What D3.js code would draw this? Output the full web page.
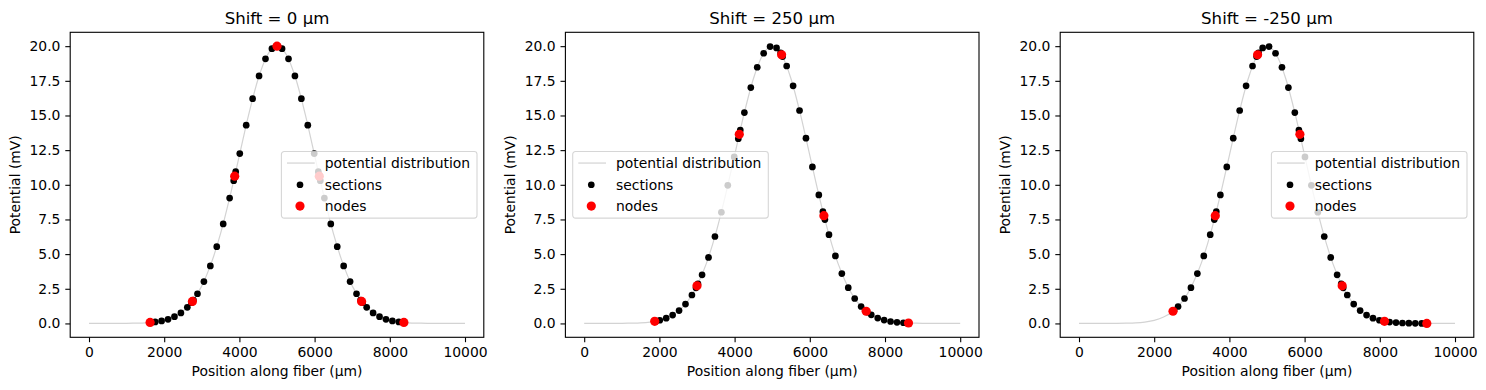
<!DOCTYPE html>
<html><head><meta charset="utf-8">
<script src="https://cdn.jsdelivr.net/npm/d3@7"></script>
<style>
body{margin:0;background:#fff}
svg{display:block}
text{font-family:"DejaVu Sans",sans-serif;fill:#000}
</style>
</head><body>
<svg id="c" width="1486" height="390"></svg>
<script>
// ---------- data ----------
const titles = ["Shift = 0 µm", "Shift = 250 µm", "Shift = -250 µm"];
const xTicks = [0, 2000, 4000, 6000, 8000, 10000];
const yTicks = [0, 2.5, 5, 7.5, 10, 12.5, 15, 17.5, 20];
const legendLabels = ["potential distribution", "sections", "nodes"];
const legendSide = ["right", "left", "right"];

// potential distribution (same curve in every panel)
const curveX = [0,250,500,750,1000,1250,1500,1750,2000,2250,2500,2750,3000,3250,3500,3750,4000,4250,4500,4750,5000,
  5250,5500,5750,6000,6250,6500,6750,7000,7250,7500,7750,8000,8250,8500,8750,9000,9250,9500,9750,10000];
const curveY = [0,0,0,0,0.01,0.02,0.04,0.10,0.22,0.46,0.88,1.59,2.71,4.33,6.49,9.16,12.13,15.10,17.65,19.38,20.00,
  19.38,17.65,15.10,12.13,9.16,6.49,4.33,2.71,1.59,0.88,0.46,0.22,0.10,0.04,0.02,0.01,0,0,0,0];

// Shift = 0
const sections0X = [1651.5,1760,1931,2102,2273,2444,2615,2723.5, 2776.5,2885,3056,3227,3398,3569,3740,3848.5,
  3901.5,4010,4181,4352,4523,4694,4865,4973.5, 5026.5,5135,5306,5477,5648,5819,5990,6098.5,
  6151.5,6260,6431,6602,6773,6944,7115,7223.5, 7276.5,7385,7556,7727,7898,8069,8240,8348.5];
const sections0Y = [0.07,0.11,0.18,0.30,0.49,0.76,1.16,1.50, 1.69,2.14,3.02,4.15,5.54,7.18,9.04,10.30,
  10.95,12.25,14.30,16.21,17.85,19.09,19.82,19.99, 19.99,19.82,19.09,17.85,16.21,14.30,12.25,10.95,
  10.30,9.04,7.18,5.54,4.15,3.02,2.14,1.69, 1.50,1.16,0.76,0.49,0.30,0.18,0.11,0.07];
const nodes0X = [1625,2750,3875,5000,6125,7250,8375];
const nodes0Y = [0.07,1.59,10.62,20.00,10.62,1.59,0.07];

// Shift = 250
const sections1X = [1901.5,2010,2181,2352,2523,2694,2865,2973.5, 3026.5,3135,3306,3477,3648,3819,3990,4098.5,
  4151.5,4260,4431,4602,4773,4944,5115,5223.5, 5276.5,5385,5556,5727,5898,6069,6240,6348.5,
  6401.5,6510,6681,6852,7023,7194,7365,7473.5, 7526.5,7635,7806,7977,8148,8319,8490,8598.5];
const sections1Y = [0.16,0.23,0.38,0.60,0.93,1.40,2.05,2.57, 2.85,3.51,4.76,6.27,8.02,9.96,12.01,13.32,
  13.95,15.21,17.01,18.48,19.49,19.97,19.87,19.51, 19.25,18.57,17.14,15.36,13.36,11.29,9.27,8.06,
  7.49,6.40,4.87,3.60,2.58,1.80,1.22,0.94, 0.82,0.62,0.39,0.24,0.14,0.08,0.05,0.03];
const nodes1X = [1875,3000,4125,5250,6375,7500,8625];
const nodes1Y = [0.15,2.71,13.64,19.38,7.77,0.88,0.03];

// Shift = -250
const sections2X = [2526.5,2635,2806,2977,3148,3319,3490,3598.5, 3651.5,3760,3931,4102,4273,4444,4615,4723.5,
  4776.5,4885,5056,5227,5398,5569,5740,5848.5, 5901.5,6010,6181,6352,6523,6694,6865,6973.5,
  7026.5,7135,7306,7477,7648,7819,7990,8098.5, 8151.5,8260,8431,8602,8773,8944,9115,9223.5];
const sections2Y = [0.94,1.22,1.80,2.58,3.60,4.87,6.40,7.49, 8.06,9.27,11.29,13.36,15.36,17.14,18.57,19.25,
  19.51,19.87,19.97,19.49,18.48,17.01,15.21,13.95, 13.32,12.01,9.96,8.02,6.27,4.76,3.51,2.85,
  2.57,2.05,1.40,0.93,0.60,0.38,0.23,0.16, 0.14,0.10,0.06,0.03,0.02,0.01,0.00,0.00];
const nodes2X = [2500,3625,4750,5875,7000,8125,9250];
const nodes2Y = [0.88,7.77,19.38,13.64,2.71,0.15,0.00];

const sectionsX = [sections0X, sections1X, sections2X];
const sectionsY = [sections0Y, sections1Y, sections2Y];
const nodesX = [nodes0X, nodes1X, nodes2X];
const nodesY = [nodes0Y, nodes1Y, nodes2Y];

// ---------- layout ----------
const axLefts = [70.2, 565.4, 1060.2];
const axW = 413.6, axTop = 32.3, axBottom = 337.3;
const FS = 13.9, TFS = 16.6, TICK = 4.9;
const RS = 3.35, RN = 4.6;

const svg = d3.select("#c");

for (let p = 0; p < 3; p++) {
  const L = axLefts[p], R = L + axW;
  const x = d3.scaleLinear().domain([-500, 10500]).range([L, R]);
  const y = d3.scaleLinear().domain([-1, 21]).range([axBottom, axTop]);
  const g = svg.append("g");

  // curve
  const cdata = curveX.map((v, i) => [v, curveY[i]]);
  g.append("path").datum(cdata)
    .attr("fill", "none").attr("stroke", "#d3d3d3").attr("stroke-width", 1.2)
    .attr("d", d3.line().x(d => x(d[0])).y(d => y(d[1])).curve(d3.curveMonotoneX));

  // sections
  g.selectAll("circle.sec").data(sectionsX[p].map((v, i) => [v, sectionsY[p][i]]))
    .enter().append("circle").attr("class", "sec")
    .attr("cx", d => x(d[0])).attr("cy", d => y(d[1])).attr("r", RS).attr("fill", "#000");

  // nodes
  g.selectAll("circle.node").data(nodesX[p].map((v, i) => [v, nodesY[p][i]]))
    .enter().append("circle").attr("class", "node")
    .attr("cx", d => x(d[0])).attr("cy", d => y(d[1])).attr("r", RN).attr("fill", "#ff0000");

  // axes
  const xa = g.append("g").attr("transform", `translate(0,${axBottom})`)
    .call(d3.axisBottom(x).tickValues(xTicks).tickFormat(d3.format("d")).tickSize(TICK).tickPadding(4.9));
  const ya = g.append("g").attr("transform", `translate(${L},0)`)
    .call(d3.axisLeft(y).tickValues(yTicks).tickFormat(d3.format(".1f")).tickSize(TICK).tickPadding(4.9));
  [xa, ya].forEach(a => {
    a.select(".domain").remove();
    a.selectAll(".tick line").attr("stroke", "#000").attr("stroke-width", 1.1);
    a.selectAll(".tick text").attr("font-size", FS).attr("font-family", "DejaVu Sans").attr("fill", "#000");
  });

  // frame
  g.append("rect").attr("x", L).attr("y", axTop).attr("width", axW).attr("height", axBottom - axTop)
    .attr("fill", "none").attr("stroke", "#000").attr("stroke-width", 1.1);

  // title & labels
  g.append("text").attr("x", (L + R) / 2).attr("y", 24).attr("text-anchor", "middle")
    .attr("font-size", TFS).text(titles[p]);
  g.append("text").attr("x", (L + R) / 2).attr("y", 376).attr("text-anchor", "middle")
    .attr("font-size", FS).text("Position along fiber (µm)");
  g.append("text").attr("transform", `translate(${L - 50},${(axTop + axBottom) / 2}) rotate(-90)`)
    .attr("text-anchor", "middle").attr("font-size", FS).text("Potential (mV)");

  // legend
  const lw = 195.6, lh = 66.7;
  const lx = legendSide[p] === "right" ? R - 6.8 - lw : L + 7.3;
  const ly = (axTop + axBottom) / 2 - lh / 2;
  const lg = g.append("g").attr("transform", `translate(${lx},${ly})`);
  lg.append("rect").attr("x", 0).attr("y", 0).attr("width", lw).attr("height", lh).attr("rx", 2.8)
    .attr("fill", "#fff").attr("fill-opacity", 0.8)
    .attr("stroke", "#cccccc").attr("stroke-opacity", 0.8).attr("stroke-width", 1.1);
  const rows = [11.6, 33.3, 54.6];
  lg.append("line").attr("x1", 5.6).attr("x2", 33.3).attr("y1", rows[0]).attr("y2", rows[0])
    .attr("stroke", "#d3d3d3").attr("stroke-width", 1.2);
  lg.append("circle").attr("cx", 18.6).attr("cy", rows[1]).attr("r", RS).attr("fill", "#000");
  lg.append("circle").attr("cx", 18.6).attr("cy", rows[2]).attr("r", RN).attr("fill", "#ff0000");
  legendLabels.forEach((t, i) => {
    lg.append("text").attr("x", 43.3).attr("y", rows[i]).attr("dy", "0.36em")
      .attr("font-size", FS).text(t);
  });
}
</script>
</body></html>
